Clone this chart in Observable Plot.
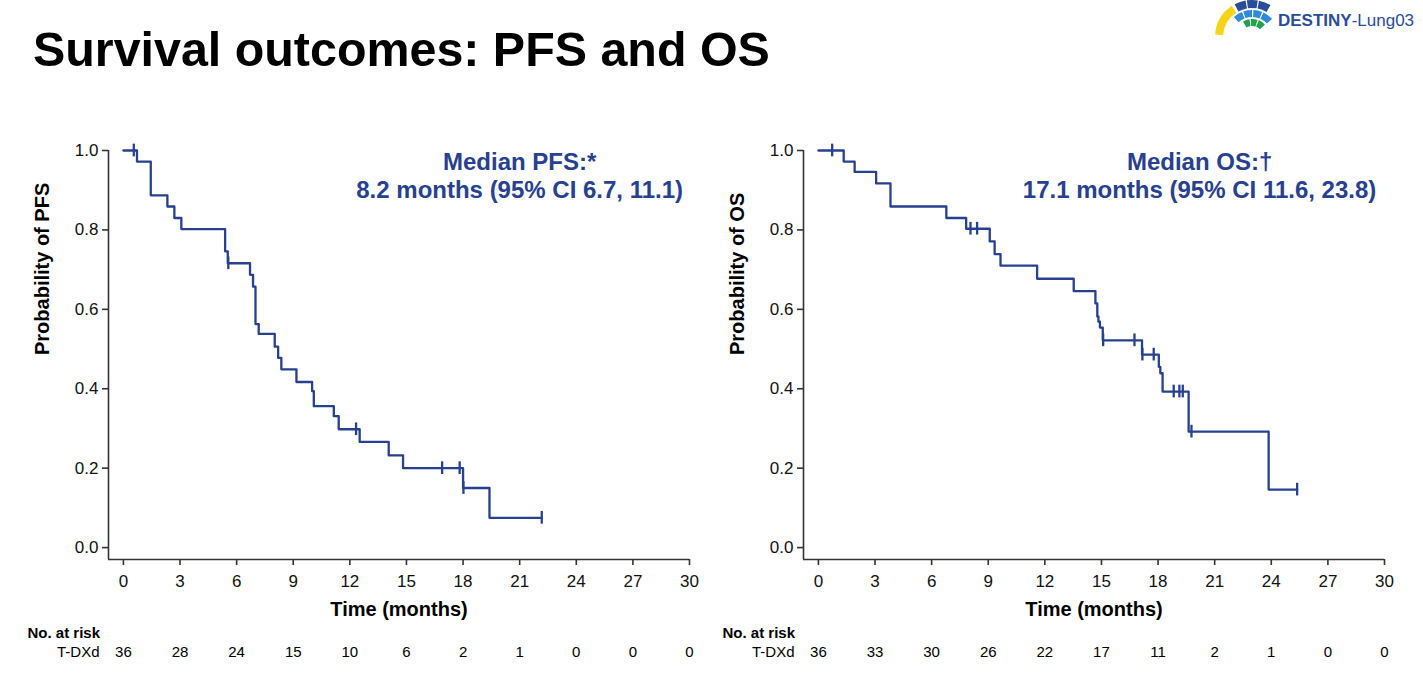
<!DOCTYPE html>
<html><head><meta charset="utf-8">
<script src="https://cdn.jsdelivr.net/npm/d3@7"></script>
<script src="https://cdn.jsdelivr.net/npm/@observablehq/plot@0.6"></script>
<style>
body{margin:0;background:#fff;font-family:"Liberation Sans",Arial,sans-serif;}
#root{position:relative;width:1423px;height:676px;overflow:hidden;background:#fff;}
#title{position:absolute;left:33px;top:25px;font-size:48.4px;font-weight:bold;line-height:48px;color:#000;white-space:nowrap;}
.panel{position:absolute;top:100px;}
#logo{position:absolute;left:0;top:0;}
</style></head><body>
<div id="root">
  <div id="title">Survival outcomes: PFS and OS</div>
  <svg id="logo" width="1423" height="45"></svg>
  <div id="left" class="panel" style="left:0px"></div>
  <div id="right" class="panel" style="left:695px"></div>
</div>
<script>
// ---- Data ----
const riskTimes = [0, 3, 6, 9, 12, 15, 18, 21, 24, 27, 30];
const yTicks = [0, 0.2, 0.4, 0.6, 0.8, 1.0];

const pfsTime = [0, 0.72, 1.45, 2.33, 2.70, 3.07, 5.39, 5.53, 6.71, 6.87, 7.00, 7.17, 8.02, 8.20, 8.37, 9.17, 10.00, 10.09, 11.15, 11.41, 12.52, 14.06, 14.82, 18.00, 19.40, 22.17];
const pfsSurv = [1.0, 0.972, 0.887, 0.859, 0.830, 0.802, 0.746, 0.716, 0.687, 0.657, 0.563, 0.538, 0.506, 0.478, 0.449, 0.417, 0.394, 0.356, 0.331, 0.298, 0.266, 0.232, 0.200, 0.150, 0.075, 0.075];
const pfsCensor = [0.55, 5.56, 12.33, 16.89, 17.82, 18.02, 22.17];
const pfsRisk = [36, 28, 24, 15, 10, 6, 2, 1, 0, 0, 0];

const osTime = [0, 1.34, 1.92, 3.06, 3.82, 6.78, 7.83, 9.08, 9.34, 9.65, 11.59, 13.53, 14.68, 14.78, 14.84, 14.92, 15.07, 17.15, 18.04, 18.12, 18.24, 19.62, 23.86, 25.37];
const osSurv = [1.0, 0.972, 0.946, 0.917, 0.859, 0.830, 0.803, 0.771, 0.739, 0.710, 0.677, 0.646, 0.615, 0.582, 0.569, 0.554, 0.522, 0.486, 0.455, 0.439, 0.393, 0.292, 0.146, 0.146];
const osCensor = [0.73, 8.06, 8.41, 15.09, 16.75, 17.17, 17.77, 18.83, 19.13, 19.31, 19.77, 25.37];
const osRisk = [36, 33, 30, 26, 22, 17, 11, 2, 1, 0, 0];

const pfsLabel = "Probability of PFS";
const osLabel = "Probability of OS";
const pfsMedian = "Median PFS:*\n8.2 months (95% CI 6.7, 11.1)";
const osMedian = "Median OS:\u2020\n17.1 months (95% CI 11.6, 23.8)";
const armName = "T-DXd";

// ---- Styling ----
const BLUE = "#27408f";
const AXIS = "#333";
const FONT = "Liberation Sans, Arial, sans-serif";
const NARROW = "Liberation Sans Narrow, Liberation Sans, Arial, sans-serif";

function survAt(times, surv, t) {
  let s = surv[0];
  for (let i = 0; i < times.length; i++) if (times[i] <= t) s = surv[i];
  return s;
}

function km({times, surv, censor, risk, ylab, median, medianX}) {
  const curve = times.map((t, i) => ({t, s: surv[i]}));
  const cens = censor.map(t => ({t, s: survAt(times, surv, t)}));
  const risks = riskTimes.map((t, i) => ({t, n: String(risk[i])}));
  return Plot.plot({
    width: 700, height: 576,
    marginLeft: 108, marginRight: 11, marginTop: 50, marginBottom: 117,
    style: {background: "transparent", fontFamily: FONT, overflow: "visible", color: "#111"},
    x: {domain: [-0.79, 30]},
    y: {domain: [-0.03, 1]},
    marks: [
      Plot.ruleY([-0.03], {stroke: AXIS, strokeWidth: 1.6}),
      Plot.ruleX([-0.79], {stroke: AXIS, strokeWidth: 1.6}),
      Plot.axisX(riskTimes, {anchor: "bottom", tickSize: 6, tickPadding: 9, fontSize: 17, stroke: AXIS, strokeWidth: 1.6, fill: "#111", label: null}),
      Plot.axisY(yTicks, {anchor: "left", tickSize: 6, tickPadding: 4, fontSize: 17, stroke: AXIS, strokeWidth: 1.6, fill: "#111", tickFormat: d3.format(".1f"), label: null}),
      Plot.line(curve, {x: "t", y: "s", curve: "step-after", stroke: BLUE, strokeWidth: 2.3}),
      Plot.ruleX(cens, {x: "t", y1: d => d.s - 0.016, y2: d => d.s + 0.016, stroke: BLUE, strokeWidth: 2.3}),
      Plot.text([median], {x: () => medianX, frameAnchor: "top", lineAnchor: "top", dy: 0, fontSize: 24, fontWeight: "bold", fill: BLUE, lineHeight: 1.15, text: d => d}),
      Plot.text([ylab], {frameAnchor: "left", rotate: -90, dx: -66, fontSize: 20, fontWeight: "bold", fill: "#000", text: d => d}),
      Plot.text(["Time (months)"], {frameAnchor: "bottom", dy: 56, fontSize: 20, fontWeight: "bold", fill: "#000", text: d => d}),
      Plot.text(["No. at risk"], {frameAnchor: "bottom-left", textAnchor: "start", dx: -81, dy: 78, fontSize: 15, fontWeight: "bold", fontFamily: NARROW, fill: "#000", text: d => d}),
      Plot.text([armName], {frameAnchor: "bottom-left", textAnchor: "end", dx: -9, dy: 97, fontSize: 15, fontFamily: NARROW, fill: "#000", text: d => d}),
      Plot.text(risks, {x: "t", text: "n", frameAnchor: "bottom", dy: 97, fontSize: 15, fontFamily: NARROW, fill: "#000"})
    ]
  });
}

document.getElementById("left").append(km({times: pfsTime, surv: pfsSurv, censor: pfsCensor, risk: pfsRisk, ylab: pfsLabel, median: pfsMedian, medianX: 21.0}));
document.getElementById("right").append(km({times: osTime, surv: osSurv, censor: osCensor, risk: osRisk, ylab: osLabel, median: osMedian, medianX: 20.2}));

// ---- Decorative logo ----
(function logo() {
  const svg = d3.select("#logo");
  const g = svg.append("g").attr("transform", "translate(1252,37)");
  const arc = d3.arc();
  const deg = Math.PI / 180;
  const segs = [
    {r0: 29, r1: 37, a0: -86, a1: -33, c: "#f5d418"},
    {r0: 29, r1: 37, a0: -28, a1: -10, c: "#2b4c9b"},
    {r0: 29, r1: 37, a0: -8, a1: 9, c: "#2b4c9b"},
    {r0: 29, r1: 37, a0: 11, a1: 30, c: "#2b4c9b"},
    {r0: 20, r1: 27, a0: -42, a1: -22, c: "#2e8bd6"},
    {r0: 20, r1: 27, a0: -19, a1: 0, c: "#2e8bd6"},
    {r0: 20, r1: 27, a0: 3, a1: 22, c: "#2e8bd6"},
    {r0: 20, r1: 27, a0: 25, a1: 48, c: "#2e8bd6"},
    {r0: 11, r1: 18, a0: -30, a1: -8, c: "#1fa34a"},
    {r0: 11, r1: 18, a0: -4, a1: 18, c: "#1fa34a"},
    {r0: 11, r1: 18, a0: 22, a1: 46, c: "#1fa34a"}
  ];
  g.selectAll("path").data(segs).join("path")
    .attr("d", d => arc({innerRadius: d.r0, outerRadius: d.r1, startAngle: d.a0 * deg, endAngle: d.a1 * deg}))
    .attr("fill", d => d.c);
  const t = svg.append("text").attr("x", 1278).attr("y", 25.5)
    .attr("font-family", FONT).attr("font-size", 17).attr("fill", "#2b4c9b");
  t.append("tspan").attr("font-weight", "bold").text("DESTINY");
  t.append("tspan").text("-Lung03");
})();
</script>
</body></html>
